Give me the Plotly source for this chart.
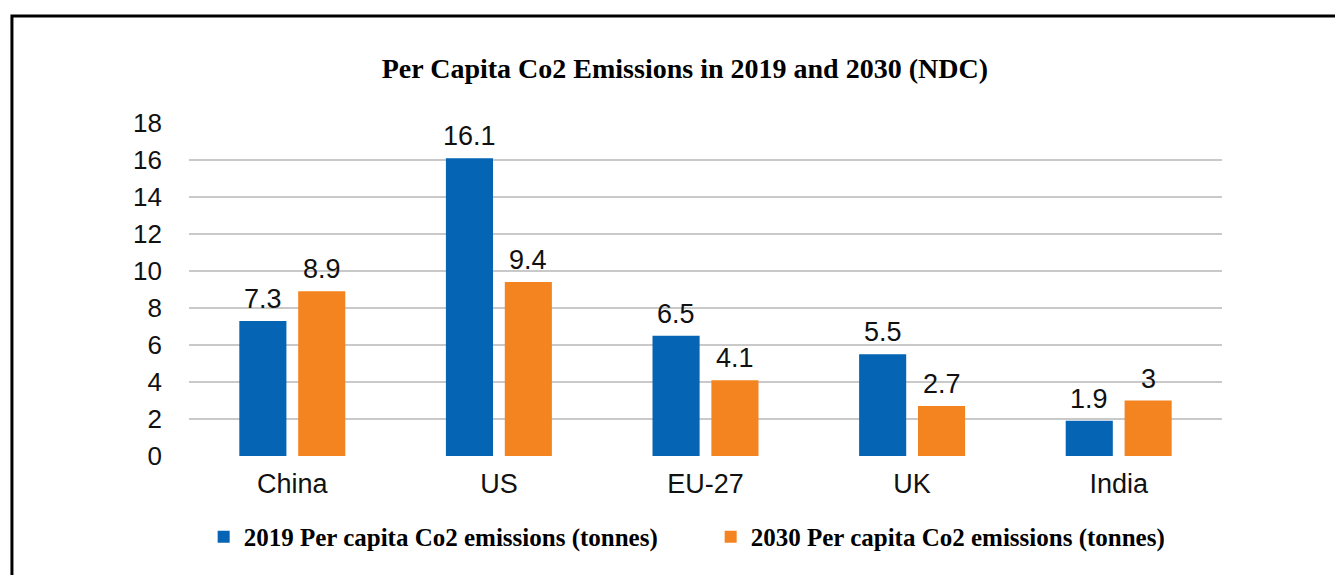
import plotly.graph_objects as go

# chart data
countries = ['China', 'US', 'EU-27', 'UK', 'India']
per_capita_2019 = [7.3, 16.1, 6.5, 5.5, 1.9]
per_capita_2030 = [8.9, 9.4, 4.1, 2.7, 3]
series_names = ['2019 Per capita Co2 emissions (tonnes)',
                '2030 Per capita Co2 emissions (tonnes)']
y_ticks = [0, 2, 4, 6, 8, 10, 12, 14, 16, 18]

blue = '#0564b3'
orange = '#f48420'
sans = 'Liberation Sans, Arial, sans-serif'
serif = 'Liberation Serif, Georgia, serif'

W, H = 1343, 575
margin = dict(l=181, r=129, t=115, b=127)   # body adds 8px offset
bargap = 0.43

fig = go.Figure()

for name, vals, col in [(series_names[0], per_capita_2019, blue),
                        (series_names[1], per_capita_2030, orange)]:
    fig.add_trace(go.Bar(
        x=countries,
        y=vals,
        name=name,
        marker=dict(color=col, line=dict(width=0)),
        hoverinfo='skip'
    ))

# value labels sit a bit higher above the bars than plotly's outside text
cat_w = (W - margin['l'] - margin['r']) / len(countries)
half_slot = cat_w * (1 - bargap) / 4
for vals, side in [(per_capita_2019, -1), (per_capita_2030, 1)]:
    for c, v in zip(countries, vals):
        fig.add_annotation(
            x=c, y=v, text=f'{v:g}', showarrow=False,
            xshift=side * half_slot, yshift=5, yanchor='bottom',
            font=dict(family=sans, size=27, color='#111111')
        )

# outer frame (right and bottom edges fall outside the picture)
fig.add_shape(type='rect', xref='paper', yref='paper',
              x0=-0.1714, x1=1.2, y0=-0.5, y1=1.321,
              line=dict(color='black', width=3), fillcolor='rgba(0,0,0,0)')

fig.update_layout(
    width=W,
    height=H,
    margin=margin,
    paper_bgcolor='white',
    plot_bgcolor='white',
    barmode='group',
    bargap=bargap,
    bargroupgap=0.2,
    title=dict(
        text='<b>Per Capita Co2 Emissions in 2019 and 2030 (NDC)</b>',
        font=dict(family=serif, size=28, color='black'),
        x=0.504, xanchor='center', xref='container',
        y=0.8957, yref='container', yanchor='middle'
    ),
    showlegend=True,
    legend=dict(
        orientation='h',
        x=0.505, xanchor='center',
        y=-0.243, yanchor='middle',
        font=dict(family=serif, size=25, color='black', weight='bold'),
        entrywidth=462,
        itemclick=False,
        traceorder='normal'
    ),
    xaxis=dict(
        showgrid=False, zeroline=False, showline=False,
        tickfont=dict(family=sans, size=27, color='#111111'),
        ticklabelstandoff=9
    ),
    yaxis=dict(
        range=[0, 18],
        tickvals=y_ticks,
        showgrid=True, gridcolor='#c9c9c9', gridwidth=2,
        zeroline=False, showline=False,
        tickfont=dict(family=sans, size=26, color='#111111'),
        ticklabelstandoff=26
    )
)

fig.write_html('out.html')
